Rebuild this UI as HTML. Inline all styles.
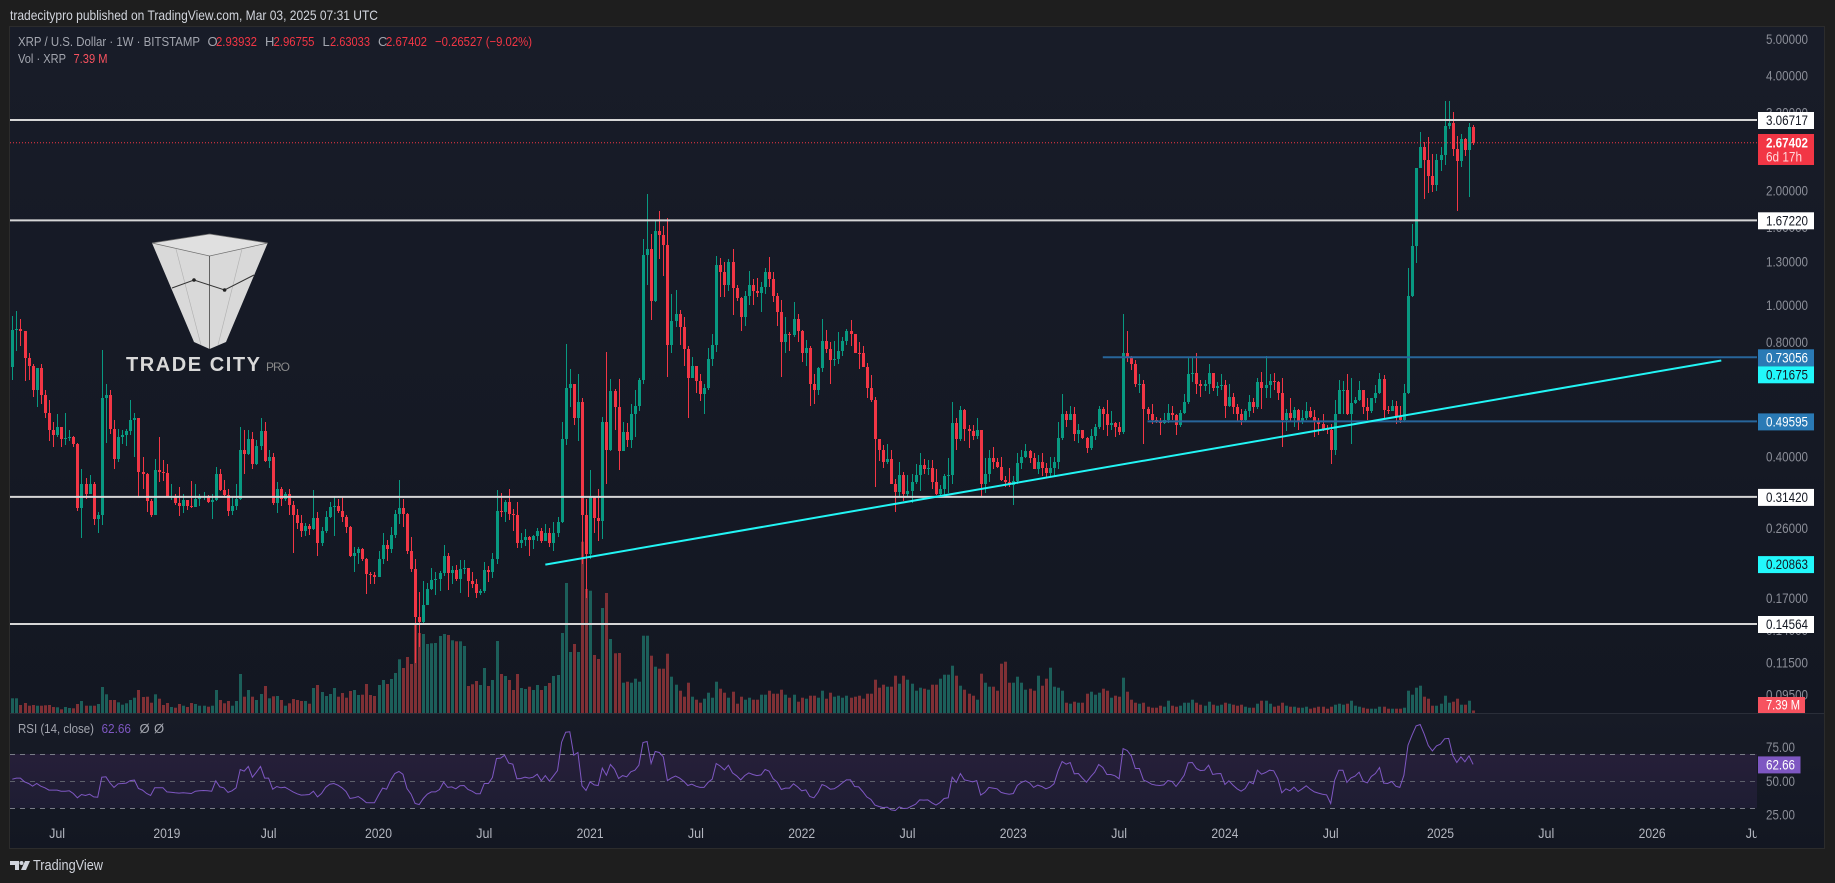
<!DOCTYPE html>
<html lang="en">
<head>
<meta charset="utf-8">
<title>XRP / U.S. Dollar weekly chart</title>
<style>
html,body{margin:0;padding:0;background:#1e1e1e;width:1835px;height:883px;overflow:hidden}
svg{display:block;font-family:"Liberation Sans",sans-serif}
</style>
</head>
<body>
<svg id="chart" xmlns="http://www.w3.org/2000/svg" width="1835" height="883" viewBox="0 0 1835 883">
  <defs>
    <linearGradient id="mainBg" x1="0" y1="0" x2="0" y2="1"><stop offset="0" stop-color="#181c28"/><stop offset="1" stop-color="#131722"/></linearGradient>
    <linearGradient id="rsiBg" x1="0" y1="0" x2="0" y2="1"><stop offset="0" stop-color="#171b26"/><stop offset="1" stop-color="#131722"/></linearGradient>
    <linearGradient id="rsiBand" x1="0" y1="0" x2="0" y2="1"><stop offset="0" stop-color="#261f39"/><stop offset="1" stop-color="#1e1d33"/></linearGradient>
  </defs>
  <rect x="0" y="0" width="1835" height="883" fill="#1e1e1e"/>
  <text x="10" y="20" font-size="14" fill="#d1d4dc" textLength="368" lengthAdjust="spacingAndGlyphs">tradecitypro published on TradingView.com, Mar 03, 2025 07:31 UTC</text>
  <rect x="9.5" y="26.5" width="1815" height="822" fill="none" stroke="#2c2c2c"/>
  <rect x="10" y="27" width="1814" height="686" fill="url(#mainBg)"/>
  <rect x="10" y="714" width="1814" height="134" fill="url(#rsiBg)"/>
  <rect x="10" y="713" width="1814" height="1" fill="#2a2e39"/>

  <g id="logo">
    <polygon points="152,243 209.6,256 267.7,243 226,342 209.6,349 194,342" fill="#d9d9d9"/>
    <polygon points="152,243 209.6,234 267.7,243 209.6,256" fill="#e0e0e0" stroke="#6f6f6f" stroke-width="0.7"/>
    <line x1="209.6" y1="256" x2="209.6" y2="349" stroke="#444" stroke-width="0.8"/>
    <line x1="176" y1="249" x2="201" y2="345" stroke="#b0b0b0" stroke-width="0.6"/>
    <line x1="242" y1="249" x2="218" y2="345" stroke="#b0b0b0" stroke-width="0.6"/>
    <polyline points="172,288 194,280 224.6,290 254,275" fill="none" stroke="#333" stroke-width="1"/>
    <circle cx="194" cy="280" r="1.8" fill="#222"/>
    <circle cx="224.6" cy="290" r="1.8" fill="#222"/>
    <text x="126" y="371" font-size="20" font-weight="700" fill="#d9d9d9" textLength="134" lengthAdjust="spacing">TRADE CITY</text>
    <text x="266" y="371" font-size="12" fill="#8a8a8a" textLength="24" lengthAdjust="spacing">PRO</text>
  </g>

  <g id="volumeLayer"></g>
  <g id="candleLayer"></g>
  <g id="drawLayer"></g>

  <g>
    <rect x="10" y="754" width="1747" height="54" fill="url(#rsiBand)"/>
    <line x1="10" y1="754.5" x2="1757" y2="754.5" stroke="#787b86" stroke-dasharray="5 5"/>
    <line x1="10" y1="781.5" x2="1757" y2="781.5" stroke="#5d5f6b" stroke-dasharray="5 5"/>
    <line x1="10" y1="808.5" x2="1757" y2="808.5" stroke="#787b86" stroke-dasharray="5 5"/>
  </g>
  <g id="rsiLayer"></g>

  <g id="priceAxis"></g>
  <g id="rsiAxis"></g>
  <g id="timeAxis"></g>
  <g id="pillLayer"></g>

  <g font-size="13">
    <text x="18" y="46" fill="#a3a6af" textLength="182" lengthAdjust="spacingAndGlyphs">XRP / U.S. Dollar · 1W · BITSTAMP</text>
    <text x="207.5" y="46" fill="#a3a6af">O</text>
    <text x="216" y="46" fill="#f23645" textLength="41" lengthAdjust="spacingAndGlyphs">2.93932</text>
    <text x="265" y="46" fill="#a3a6af">H</text>
    <text x="273.5" y="46" fill="#f23645" textLength="41" lengthAdjust="spacingAndGlyphs">2.96755</text>
    <text x="322.5" y="46" fill="#a3a6af">L</text>
    <text x="330" y="46" fill="#f23645" textLength="40" lengthAdjust="spacingAndGlyphs">2.63033</text>
    <text x="378" y="46" fill="#a3a6af">C</text>
    <text x="386" y="46" fill="#f23645" textLength="41" lengthAdjust="spacingAndGlyphs">2.67402</text>
    <text x="435" y="46" fill="#f23645" textLength="97" lengthAdjust="spacingAndGlyphs">−0.26527 (−9.02%)</text>
    <text x="18" y="63" fill="#a3a6af" textLength="48" lengthAdjust="spacingAndGlyphs">Vol · XRP</text>
    <text x="73.5" y="63" fill="#f7525f" textLength="34" lengthAdjust="spacingAndGlyphs">7.39 M</text>
    <text x="18" y="733" fill="#a3a6af" textLength="76" lengthAdjust="spacingAndGlyphs">RSI (14, close)</text>
    <text x="101.5" y="733" fill="#7e57c2" textLength="29.5" lengthAdjust="spacingAndGlyphs">62.66</text>
    <text x="139.5" y="733" fill="#a3a6af">Ø</text>
    <text x="154" y="733" fill="#a3a6af">Ø</text>
  </g>

  <g>
    <polygon points="10,861 19,861 19,870 15,870 15,865 10,865" fill="#d1d4dc"/>
    <circle cx="21.5" cy="863" r="2" fill="#d1d4dc"/>
    <polygon points="25,861 30,861 26,870 21,870" fill="#d1d4dc"/>
    <text x="33" y="870" font-size="15" fill="#d1d4dc" textLength="70" lengthAdjust="spacingAndGlyphs">TradingView</text>
  </g>
</svg>
<script>
const firstOpen = 0.689;
const closes = [
.860,.865,.855,.727,.692,.599,.685,.58,.523,.47,
.458,.48,.445,.448,.452,.432,.294,.34,.32,.34,
.275,.282,.57,.58,.475,.396,.452,.458,.467,.50,
.505,.366,.36,.306,.282,.369,.366,.362,.314,.316,
.302,.297,.308,.298,.295,.31,.314,.315,.304,.308,
.36,.327,.318,.288,.297,.31,.418,.407,.445,.384,
.427,.467,.39,.40,.302,.33,.31,.32,.30,.282,
.268,.255,.263,.258,.277,.238,.255,.278,.295,.298,
.288,.278,.262,.22,.224,.229,.216,.197,.196,.194,
.216,.235,.229,.25,.284,.293,.284,.226,.203,.152,
.147,.163,.18,.19,.191,.198,.22,.198,.202,.191,
.203,.204,.189,.185,.176,.178,.202,.199,.216,.288,
.287,.304,.284,.282,.238,.242,.247,.242,.248,.255,
.24,.253,.238,.253,.27,.445,.605,.62,.507,.558,
.282,.223,.314,.277,.272,.495,.416,.595,.54,.414,
.465,.442,.517,.544,.635,1.354,1.41,1.025,1.565,1.53,
1.44,.785,.91,.95,.88,.77,.645,.695,.632,.585,
.605,.725,.785,1.28,1.22,1.13,1.30,1.11,1.045,.93,
1.06,1.13,1.09,1.08,1.115,1.22,1.17,1.06,.96,.80,
.84,.835,.92,.855,.75,.775,.62,.598,.683,.805,
.77,.717,.725,.76,.805,.855,.84,.75,.748,.69,
.605,.563,.445,.418,.388,.394,.34,.323,.358,.32,
.325,.343,.358,.381,.371,.375,.343,.32,.33,.356,
.358,.49,.445,.53,.473,.467,.455,.47,.339,.36,
.397,.388,.377,.347,.343,.337,.345,.386,.40,.414,
.397,.371,.388,.375,.362,.373,.388,.448,.517,.50,
.52,.46,.47,.448,.423,.455,.48,.535,.517,.485,
.49,.48,.465,.75,.73,.70,.62,.622,.535,.52,
.50,.494,.49,.50,.523,.515,.485,.523,.557,.66,
.665,.62,.615,.622,.665,.605,.615,.617,.545,.575,
.54,.52,.499,.527,.557,.54,.628,.605,.617,.632,
.628,.59,.499,.523,.507,.53,.495,.507,.527,.51,
.495,.488,.475,.47,.416,.52,.598,.60,.52,.553,
.563,.598,.54,.527,.57,.59,.64,.53,.528,.545,
.51,.499,.59,1.06,1.43,2.29,2.60,2.41,2.18,2.07,
2.41,2.48,2.95,3.02,2.57,2.39,2.73,2.56,2.93932,2.67402];
const highs = [
.935,.964,.923,.855,.75,.70,.685,.70,.60,.563,
.495,.52,.48,.523,.47,.455,.435,.372,.353,.358,
.343,.287,.762,.62,.598,.499,.475,.47,.475,.563,
.523,.505,.40,.362,.31,.394,.45,.392,.384,.339,
.32,.333,.32,.308,.345,.339,.32,.323,.318,.32,
.377,.371,.347,.329,.313,.34,.48,.47,.472,.465,
.442,.505,.494,.418,.41,.343,.333,.323,.33,.306,
.292,.282,.268,.266,.327,.287,.262,.288,.304,.315,
.31,.315,.282,.263,.232,.232,.231,.217,.20,.199,
.226,.253,.242,.262,.29,.347,.31,.285,.247,.216,
.177,.189,.187,.204,.199,.201,.235,.224,.207,.208,
.214,.214,.204,.20,.191,.18,.212,.207,.224,.327,
.322,.308,.329,.292,.304,.253,.258,.248,.25,.26,
.26,.267,.26,.27,.278,.495,.79,.68,.62,.66,
.57,.31,.37,.314,.329,.51,.755,.64,.603,.642,
.495,.49,.55,.598,.645,1.492,1.96,1.535,1.665,1.77,
1.62,1.70,1.07,1.10,.975,.93,.78,.73,.695,.66,
.62,.775,.84,1.35,1.33,1.30,1.32,1.41,1.13,1.05,
1.09,1.23,1.17,1.18,1.155,1.25,1.34,1.22,1.08,1.03,
.93,.85,1.02,.95,.86,.81,.78,.66,.69,.92,
.86,.80,.805,.85,.825,.865,.913,.84,.80,.78,
.705,.655,.575,.445,.43,.432,.416,.35,.388,.366,
.358,.36,.384,.41,.394,.392,.392,.371,.337,.36,
.397,.557,.507,.545,.535,.485,.485,.507,.47,.397,
.418,.424,.397,.40,.356,.373,.356,.41,.416,.432,
.418,.41,.405,.41,.386,.40,.40,.494,.585,.527,
.545,.54,.487,.472,.45,.475,.487,.545,.54,.563,
.527,.495,.494,.95,.855,.735,.72,.66,.635,.54,
.55,.51,.507,.523,.55,.545,.517,.53,.585,.727,
.727,.75,.635,.635,.70,.665,.63,.66,.637,.62,
.59,.55,.533,.535,.58,.57,.645,.67,.735,.66,
.665,.632,.645,.535,.57,.54,.535,.53,.557,.54,
.53,.505,.52,.485,.488,.565,.635,.632,.66,.645,
.575,.632,.60,.572,.572,.617,.665,.655,.545,.565,
.56,.545,.62,1.25,1.64,2.30,2.85,2.69,2.76,2.49,
2.50,2.60,3.45,3.44,3.22,2.79,2.82,2.75,3.02,2.96755];
const lows = [
.635,.758,.78,.632,.635,.575,.54,.55,.507,.44,
.425,.452,.425,.43,.44,.425,.288,.245,.31,.32,
.265,.253,.265,.435,.46,.371,.388,.432,.427,.458,
.40,.313,.33,.287,.278,.282,.343,.345,.313,.308,
.30,.28,.285,.29,.294,.295,.297,.308,.302,.275,
.306,.325,.314,.28,.282,.29,.308,.36,.405,.371,
.381,.416,.388,.373,.30,.285,.298,.306,.282,.224,
.258,.247,.248,.25,.257,.22,.234,.253,.277,.248,
.285,.27,.252,.219,.20,.209,.213,.175,.185,.185,
.194,.209,.213,.224,.245,.266,.262,.222,.20,.115,
.127,.146,.163,.179,.174,.178,.195,.179,.185,.189,
.176,.197,.172,.181,.17,.174,.176,.188,.192,.21,
.278,.27,.273,.255,.23,.23,.233,.22,.229,.24,
.237,.24,.232,.227,.247,.268,.43,.54,.485,.44,
.21,.17,.216,.252,.24,.243,.339,.414,.472,.369,
.414,.425,.423,.452,.527,.62,1.13,.913,1.02,1.32,
1.195,.65,.75,.88,.785,.695,.507,.645,.59,.56,
.52,.60,.695,.755,1.05,1.05,1.09,.945,1.025,.855,
.885,1.0,1.0,1.05,.96,1.07,1.12,1.02,.885,.65,
.75,.76,.825,.80,.71,.695,.545,.55,.58,.67,
.75,.62,.695,.70,.735,.785,.78,.75,.68,.69,
.57,.557,.333,.39,.375,.384,.339,.287,.314,.306,
.313,.302,.34,.325,.36,.358,.33,.318,.315,.313,
.322,.339,.416,.44,.44,.423,.442,.445,.315,.322,
.343,.371,.373,.345,.333,.333,.30,.34,.371,.397,
.386,.371,.36,.356,.354,.354,.356,.371,.442,.48,
.499,.44,.436,.445,.41,.418,.442,.475,.472,.455,
.472,.45,.458,.46,.71,.675,.61,.59,.432,.50,
.488,.49,.458,.488,.49,.499,.458,.478,.517,.55,
.63,.585,.575,.595,.585,.595,.577,.598,.505,.54,
.52,.495,.485,.495,.51,.523,.535,.533,.57,.57,
.60,.563,.425,.467,.495,.478,.47,.488,.50,.507,
.452,.458,.467,.46,.384,.405,.517,.517,.515,.432,
.55,.56,.517,.50,.523,.553,.585,.507,.52,.527,
.488,.49,.494,.585,1.05,1.29,2.29,1.90,1.97,1.98,
2.0,2.25,2.33,2.90,2.46,1.77,2.31,2.47,1.93,2.63033];
const volumes = [
44,44,24,30,22,24,22,22,23,24,
18,17,11,18,15,14,27,36,22,22,
22,27,78,56,39,39,32,25,29,39,
46,69,48,49,31,56,43,24,30,18,
16,27,22,18,30,27,22,22,19,22,
69,39,29,36,22,36,117,49,69,49,
39,57,81,44,50,51,39,22,29,42,
39,36,36,28,75,84,63,51,57,75,
49,60,46,66,69,54,55,87,54,51,
84,99,87,102,120,161,135,168,147,264,
240,237,207,209,210,231,237,234,218,215,
215,201,81,86,96,84,135,81,99,216,
117,111,99,69,117,75,72,79,69,84,
69,81,90,111,114,240,390,183,207,183,
514,372,367,174,162,315,360,222,179,180,
91,94,91,103,94,232,232,172,139,133,
133,178,109,85,67,49,91,49,40,31,
43,61,46,94,73,61,46,64,28,49,
40,46,40,40,55,55,67,58,58,70,
55,46,55,34,46,43,52,52,46,67,
43,61,49,52,46,52,46,49,52,43,
58,58,100,76,85,79,79,112,88,112,
100,88,67,76,73,70,85,85,103,115,
115,142,112,82,70,58,52,40,118,91,
79,79,67,148,154,91,91,109,91,70,
73,67,112,82,103,136,79,76,67,31,
28,34,31,31,58,64,55,61,73,67,
46,52,49,106,64,40,31,28,31,19,
16,16,22,19,37,22,19,22,31,31,
40,31,25,22,34,25,22,25,31,28,
25,22,25,19,16,16,28,37,37,28,
19,22,31,22,19,19,16,16,19,13,
16,19,19,13,19,25,28,25,28,37,
22,19,16,13,13,13,19,19,13,13,
13,13,16,67,55,76,82,49,43,22,
22,28,52,31,34,43,25,25,37,7.39];
const rsiValues = [
51.7,52.5,52.5,49.8,48.5,46.5,48.5,46.5,45.3,43.6,
43.6,43.6,42.8,42.8,43.1,41.1,37.9,40.4,39.6,40.6,
38.6,38.4,53.2,53.5,49,45.6,48.3,48.5,48.8,50.7,
51,44.8,43.6,41.1,39.6,45.3,45.3,45.3,42.3,42.1,
41.6,41.4,41.6,41.4,41.1,42.8,43.1,43.3,43.1,42.8,
50.5,46,45.3,41.9,43.1,45.3,58.9,57.7,61.1,53.2,
56.9,61.1,52.5,52.5,44.3,46.3,45.3,45.8,44.1,42.3,
40.9,39.9,40.1,40.4,42.8,38.6,41.1,45.6,48,48.5,
47.3,45.3,42.6,37.4,37.9,38.9,36.9,34.4,34.2,34.2,
39.9,45.1,44.3,51,55.9,57.4,55.4,44.8,40.6,33.7,
33,37.4,40.6,42.3,42.3,44.1,49.5,45.6,46,44.6,
46.8,47,44.1,42.8,40.9,40.9,48.5,48.5,53,67,
67.3,69.5,63.6,62.8,52,52.2,53.2,52.5,53.2,55.4,
50.5,54.4,50.2,54.2,58.1,79.1,86.5,86.8,69.5,71.5,
46.8,43.3,49.8,47.5,47,59.9,54.7,62.6,59.1,52.2,
54.4,53.5,57.2,58.4,62.1,78.9,79.6,63.3,72.2,71.5,
68.3,50.7,52.7,54,52.5,50.2,47,48,46.5,45.6,
45.6,49.3,51.7,63.3,61.4,58.6,62.1,56.4,54.2,51.2,
54.4,56.4,55.2,54.4,54.9,58.9,57.7,52,49.5,44.1,
45.1,45.1,48.3,46,43.1,43.8,38.9,37.9,41.9,47.8,
46.5,44.3,44.6,46.5,49,51.2,51.2,46.3,46,42.6,
38.6,36.7,32.5,31.5,30.7,31,29,28.5,31.2,30,
30.2,31.7,33.2,36.4,36.2,36.4,34.2,32.5,34.4,37.4,
37.9,53.2,49.3,55.9,51.2,50.5,49.8,50.7,39.9,41.9,
45.6,45.1,44.6,41.9,41.1,40.6,41.1,47,49.3,50.5,
49,45.6,47.3,46.3,44.6,45.8,48.3,57.7,64.8,62.8,
64.1,55.7,55.9,52.5,49.5,53.5,56.9,62.6,60.4,55.2,
55.2,54.2,52,74.4,73,69,59.6,59.6,51,49.8,
48,47.3,47,47.5,50.7,50,46.3,50.2,54.7,63.8,
64.1,59.6,58.1,58.4,62.1,55.2,55.7,55.9,47.8,50.5,
47.3,44.6,42.8,44.8,49.8,48.3,58.4,55.4,56.7,58.4,
57.9,52.2,41.6,44.6,43.1,45.8,42.6,44.6,46.8,44.3,
42.3,41.4,40.6,40.1,33.7,51,58.4,58.4,49.3,52.7,
54,56.9,50.2,49,53.7,55.9,60.4,48.8,48.5,50,
46.5,45.6,54.7,76.9,84.3,91.2,92.2,85.1,76.7,72.7,
76.4,77.7,81.6,81.9,69.5,64.1,68.3,64.6,69,62.66];
const priceTickValues = [5, 4, 3.2, 2, 1.6, 1.3, 1, 0.8, 0.4, 0.26, 0.17, 0.14, 0.115, 0.095];
const rsiTickValues = [75, 50, 25];
const timeTickLabels = ["Jul","2019","Jul","2020","Jul","2021","Jul","2022","Jul","2023","Jul","2024","Jul","2025","Jul","2026","Jul"];
const timeTickBars = [11,38,63,90,116,142,168,194,220,246,272,298,324,351,377,403,428];
const supportLevels = [3.06717, 1.6722, 0.3142, 0.14564];
const rangeLevels = [0.73056, 0.49595];
const rangeStartBars = [268, 279];
const trendPrices = [0.20863, 0.71675];
const trendBars = [131, 420];
const lastPrice = 2.67402;
const lastVolumeLabel = "7.39 M";
const lastRsi = 62.66;

const NS = 'http://www.w3.org/2000/svg';
const PLOT_RIGHT = 1757;
const xOf = i => 12.3 + 4.069 * i;
const yPrice = p => 120 + (Math.log(3.06717) - Math.log(p)) * 165.4;
const yVol = v => 713 - v / 3;
const yRsi = v => 781.5 - (v - 50) * 1.35;
const GREEN = '#089981', RED = '#f23645';

function mk(tag, attrs, parent) {
  const el = document.createElementNS(NS, tag);
  for (const k in attrs) el.setAttribute(k, attrs[k]);
  parent.appendChild(el);
  return el;
}

const volumeLayer = document.getElementById('volumeLayer');
const candleLayer = document.getElementById('candleLayer');
const drawLayer = document.getElementById('drawLayer');
const rsiLayer = document.getElementById('rsiLayer');
const priceAxis = document.getElementById('priceAxis');
const rsiAxis = document.getElementById('rsiAxis');
const timeAxis = document.getElementById('timeAxis');
const pillLayer = document.getElementById('pillLayer');

closes.forEach((c, i) => {
  const o = i === 0 ? firstOpen : closes[i - 1];
  const up = c >= o;
  const px = Math.round(xOf(i));
  const volTop = yVol(volumes[i]);
  const bar = mk('rect', {x: px - 1, y: volTop.toFixed(1), width: 3, height: (713 - volTop).toFixed(1), fill: up ? '#1c5f5a' : '#7f3035'}, volumeLayer);
  
  

  const top = Math.round(yPrice(Math.max(o, c)));
  const bot = Math.round(yPrice(Math.min(o, c)));
  const hi = Math.round(yPrice(highs[i]));
  const lo = Math.round(yPrice(lows[i]));
  const wick = mk('rect', {x: px, y: hi, width: 1, height: Math.max(1, lo - hi), fill: up ? GREEN : RED}, candleLayer);
  
  
  const body = mk('rect', {x: px - 1, y: top, width: 3, height: Math.max(1, bot - top), fill: up ? GREEN : RED}, candleLayer);
  
  
});

const priceLine = mk('line', {x1: 10, y1: yPrice(lastPrice), x2: PLOT_RIGHT, y2: yPrice(lastPrice), stroke: RED, 'stroke-width': 1, 'stroke-dasharray': '1 2'}, drawLayer);



supportLevels.forEach(level => {
  const ly = yPrice(level);
  const hl = mk('line', {x1: 10, y1: ly, x2: PLOT_RIGHT, y2: ly, stroke: '#d6d6d6', 'stroke-width': 2}, drawLayer);
  
  
});

rangeLevels.forEach((level, k) => {
  const ly = yPrice(level);
  const rl = mk('line', {x1: xOf(rangeStartBars[k]), y1: ly, x2: PLOT_RIGHT, y2: ly, stroke: '#27659a', 'stroke-width': 2}, drawLayer);
  
  
});

const trend = mk('line', {x1: xOf(trendBars[0]), y1: yPrice(trendPrices[0]), x2: xOf(trendBars[1]), y2: yPrice(trendPrices[1]), stroke: '#22f5f5', 'stroke-width': 2}, drawLayer);



const rsiLine = mk('polyline', {points: rsiValues.map((v, i) => xOf(i).toFixed(1) + ',' + yRsi(v).toFixed(1)).join(' '), fill: 'none', stroke: '#7e57c2', 'stroke-width': 1}, rsiLayer);



priceTickValues.forEach(v => {
  const t = mk('text', {x: 1766, y: (yPrice(v) + 4.6).toFixed(1), 'font-size': 13.5, fill: '#8b8e98', textLength: 42, lengthAdjust: 'spacingAndGlyphs'}, priceAxis);
  
  
  t.textContent = v.toFixed(5);
});

rsiTickValues.forEach(v => {
  const t = mk('text', {x: 1766, y: (yRsi(v) + 4.4).toFixed(1), 'font-size': 13.5, fill: '#8b8e98', textLength: 29, lengthAdjust: 'spacingAndGlyphs'}, rsiAxis);
  
  
  t.textContent = v.toFixed(2);
});

const clip = mk('clipPath', {id: 'timeClip'}, document.querySelector('#chart defs'));
mk('rect', {x: 0, y: 815, width: PLOT_RIGHT, height: 33}, clip);
timeAxis.setAttribute('clip-path', 'url(#timeClip)');
timeTickLabels.forEach((label, k) => {
  const t = mk('text', {x: xOf(timeTickBars[k]).toFixed(1), y: 838, 'font-size': 13.5, fill: '#b2b5be', 'text-anchor': 'middle', textLength: label.length === 4 ? 27 : 16, lengthAdjust: 'spacingAndGlyphs'}, timeAxis);
  
  
  t.textContent = label;
});

function pill(cy, h, w, bg, fg, label) {
  const r = mk('rect', {x: 1758, y: (cy - h / 2).toFixed(1), width: w, height: h, fill: bg}, pillLayer);
  
  
  const t = mk('text', {x: 1766, y: (cy + 4.6).toFixed(1), 'font-size': 13.5, fill: fg, textLength: label.length > 5 ? (w > 50 ? 42 : 34) : 29, lengthAdjust: 'spacingAndGlyphs'}, pillLayer);
  
  
  t.textContent = label;
}

supportLevels.forEach(level => pill(yPrice(level) + 0.5, 17, 56, '#ffffff', '#131722', level.toFixed(5)));
pill(yPrice(rangeLevels[0]) + 0.5, 17, 56, '#2a7ab5', '#ffffff', rangeLevels[0].toFixed(5));
pill(yPrice(rangeLevels[0]) + 17.5, 17, 56, '#22f8fb', '#131722', trendPrices[1].toFixed(5));
pill(yPrice(rangeLevels[1]) + 0.5, 17, 56, '#2a7ab5', '#ffffff', rangeLevels[1].toFixed(5));
pill(yPrice(trendPrices[0]), 17, 56, '#22f8fb', '#131722', trendPrices[0].toFixed(5));

const lastBox = mk('rect', {x: 1758, y: yPrice(lastPrice) - 8.7, width: 56, height: 31, fill: RED}, pillLayer);


const lastText = mk('text', {x: 1766, y: yPrice(lastPrice) + 4.6, 'font-size': 13.5, 'font-weight': 700, fill: '#ffffff', textLength: 42, lengthAdjust: 'spacingAndGlyphs'}, pillLayer);


lastText.textContent = lastPrice.toFixed(5);
const countdown = mk('text', {x: 1766, y: yPrice(lastPrice) + 19, 'font-size': 13.5, fill: '#ffd9dc', textLength: 36, lengthAdjust: 'spacingAndGlyphs'}, pillLayer);


countdown.textContent = '6d 17h';

pill(705, 16, 47, '#f7525f', '#ffffff', lastVolumeLabel);
pill(yRsi(lastRsi) + 0.5, 17, 42.5, '#7e57c2', '#ffffff', lastRsi.toFixed(2));
</script>
</body>
</html>
